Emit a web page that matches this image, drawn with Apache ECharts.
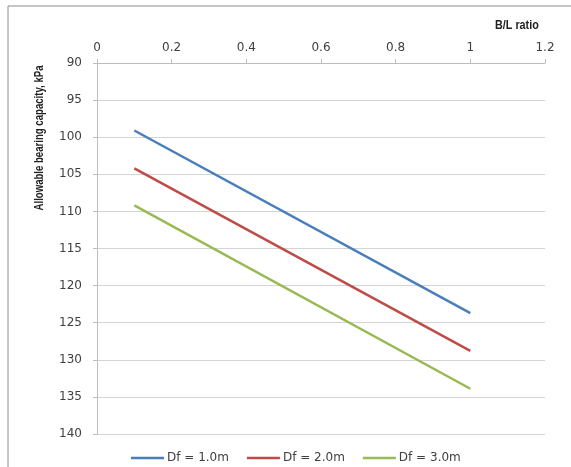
<!DOCTYPE html>
<html>
<head>
<meta charset="utf-8">
<script src="https://cdn.jsdelivr.net/npm/echarts@6/dist/echarts.min.js"></script>
<style>html,body{margin:0;padding:0;background:#fff}#c{width:571px;height:467px}</style>
</head>
<body>
<div id="c"></div>
<script>
var xValues = [0.1, 1.0];
var df1 = [99.1, 123.7];
var df2 = [104.2, 128.8];
var df3 = [109.2, 133.9];
var seriesNames = ['Df = 1.0m', 'Df = 2.0m', 'Df = 3.0m'];
var xAxisTitle = 'B/L ratio';
var yAxisTitle = 'Allowable bearing capacity, kPa';

function pairs(xs, ys) { return xs.map(function (x, i) { return [x, ys[i]]; }); }

var chart = echarts.init(document.getElementById('c'));
var labelStyle = { color: '#404040', fontFamily: 'DejaVu Sans', fontSize: 12 };
chart.setOption({
  animation: false,
  grid: { left: 97, right: 26, top: 63, bottom: 33 },
  xAxis: {
    type: 'value', position: 'top', min: 0, max: 1.2, interval: 0.2,
    axisLine: { show: true, lineStyle: { color: '#bdbdbd', width: 1 } },
    axisTick: { show: true, length: 4, lineStyle: { color: '#bdbdbd' } },
    splitLine: { show: false },
    axisLabel: Object.assign({ margin: 9, formatter: function (v) { return String(+v.toFixed(1)); } }, labelStyle)
  },
  yAxis: {
    type: 'value', inverse: true, min: 90, max: 140, interval: 5,
    axisLine: { show: true, lineStyle: { color: '#bdbdbd', width: 1 } },
    axisTick: { show: true, length: 4, lineStyle: { color: '#bdbdbd' } },
    splitLine: { show: true, lineStyle: { color: '#d4d4d4', width: 1 } },
    axisLabel: Object.assign({ margin: 15 }, labelStyle)
  },
  legend: {
    left: 126, top: 447, icon: 'rect', itemWidth: 33, itemHeight: 2.5, itemGap: 18,
    textStyle: { color: '#404040', fontFamily: 'DejaVu Sans', fontSize: 12, padding: [0, 0, 0, -2] },
    data: seriesNames
  },
  graphic: [
    { type: 'rect', shape: { x: 8, y: 6, width: 700, height: 600 }, style: { fill: 'none', stroke: '#8c8c8c', lineWidth: 1 }, silent: true },
    { type: 'text', x: 495, y: 20, scaleX: 0.9, style: { text: xAxisTitle, fontFamily: 'Liberation Sans', fontWeight: 'bold', fontSize: 12, fill: '#222' } },
    { type: 'text', x: 40, y: 138, rotation: Math.PI / 2, scaleX: 0.8, style: { text: yAxisTitle, fontFamily: 'Liberation Sans', fontWeight: 'bold', fontSize: 12, fill: '#222', align: 'center', verticalAlign: 'middle' } }
  ],
  series: [
    { name: seriesNames[0], type: 'line', data: pairs(xValues, df1), showSymbol: false, lineStyle: { color: '#4A7EBB', width: 2.5 }, itemStyle: { color: '#4A7EBB' } },
    { name: seriesNames[1], type: 'line', data: pairs(xValues, df2), showSymbol: false, lineStyle: { color: '#BE4B48', width: 2.5 }, itemStyle: { color: '#BE4B48' } },
    { name: seriesNames[2], type: 'line', data: pairs(xValues, df3), showSymbol: false, lineStyle: { color: '#98B954', width: 2.5 }, itemStyle: { color: '#98B954' } }
  ]
});
</script>
</body>
</html>
